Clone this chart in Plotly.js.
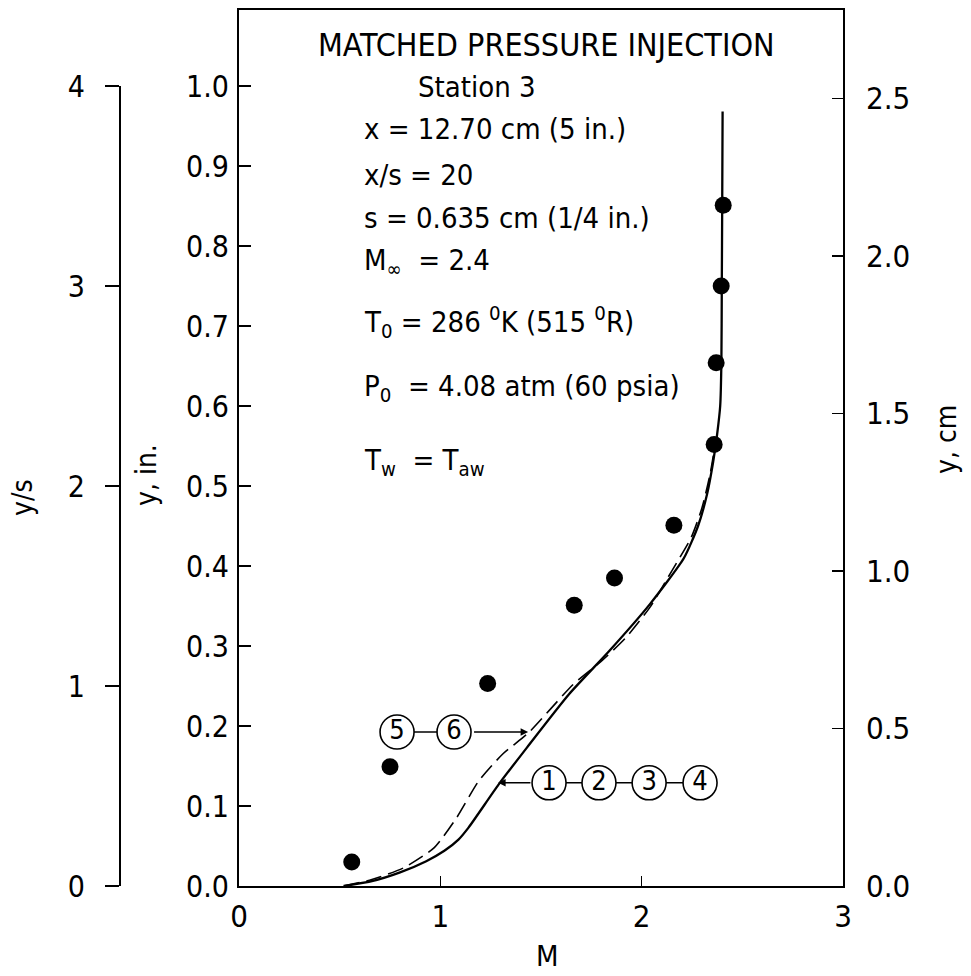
<!DOCTYPE html>
<html>
<head>
<meta charset="utf-8">
<script src="https://cdn.plot.ly/plotly-3.0.1.min.js"></script>
<style>html,body{margin:0;padding:0;background:#fff;}#chart{width:971px;height:976px;}</style>
</head>
<body>
<div id="chart"></div>
<script>
// ---- data ----
const pointsM = [0.56, 0.75, 1.235, 1.665, 1.865, 2.16, 2.36, 2.37, 2.395, 2.405];
const pointsY = [0.030, 0.149, 0.253, 0.351, 0.385, 0.451, 0.552, 0.654, 0.750, 0.851];

const solidM = [0.52, 0.66, 0.80, 0.93, 1.02, 1.09, 1.14, 1.29, 1.43, 1.64, 1.84, 2.04, 2.21, 2.28, 2.325, 2.355, 2.375, 2.39, 2.396, 2.398, 2.40, 2.402];
const solidY = [0.000, 0.006, 0.017, 0.031, 0.044, 0.058, 0.073, 0.127, 0.173, 0.240, 0.294, 0.352, 0.410, 0.450, 0.490, 0.530, 0.565, 0.600, 0.655, 0.750, 0.850, 0.968];

const dashM = [0.52, 0.66, 0.82, 0.97, 1.08, 1.19, 1.31, 1.44, 1.66, 1.80, 1.92, 2.04, 2.15, 2.245, 2.30, 2.34, 2.37];
const dashY = [0.000, 0.008, 0.023, 0.048, 0.085, 0.131, 0.165, 0.192, 0.252, 0.281, 0.310, 0.348, 0.394, 0.435, 0.473, 0.515, 0.560];

const xTickVals = [0, 1, 2, 3];
const xTickText = ['0', '1', '2', '3'];
const yInTickVals = [0, 0.1, 0.2, 0.3, 0.4, 0.5, 0.6, 0.7, 0.8, 0.9, 1.0];
const yInTickText = ['0.0', '0.1', '0.2', '0.3', '0.4', '0.5', '0.6', '0.7', '0.8', '0.9', '1.0'];
const yCmTickVals = [0, 0.5, 1.0, 1.5, 2.0, 2.5];
const yCmTickText = ['0.0', '0.5', '1.0', '1.5', '2.0', '2.5'];
const ySTickVals = [0, 1, 2, 3, 4];
const ySTickText = ['0', '1', '2', '3', '4'];

const label56 = ['5', '6'];
const label1234 = ['1', '2', '3', '4'];

// ---- layout helpers ----
const W = 971, H = 976;
const px = v => v / W;
const py = v => 1 - v / H;
const COND = '"DejaVu Sans Condensed", "Liberation Sans Narrow", "Arial Narrow", sans-serif';

const yTop = 1.095;          // y (in.) at top of frame
const label56M = [0.785, 1.068], label56Y = [0.1925, 0.1925];
const label1234M = [1.54, 1.788, 2.037, 2.29], label1234Y = [0.129, 0.129, 0.129, 0.129];

const traces = [
  {x: solidM, y: solidY, mode: 'lines', line: {color: '#000', width: 2.3, shape: 'spline', smoothing: 0.6}, hoverinfo: 'skip'},
  {x: dashM, y: dashY, mode: 'lines', line: {color: '#000', width: 1.6, dash: '16px,7px', shape: 'spline', smoothing: 0.6}, hoverinfo: 'skip'},
  {x: pointsM, y: pointsY, mode: 'markers', marker: {color: '#000', size: 17, symbol: 'circle'}},
  {x: label56M, y: label56Y, text: label56, mode: 'lines+markers+text', textposition: 'middle center',
   textfont: {family: COND, size: 27, color: '#000'},
   line: {color: '#000', width: 1.6},
   marker: {size: 34, color: '#fff', line: {color: '#000', width: 1.6}}},
  {x: label1234M, y: label1234Y, text: label1234, mode: 'lines+markers+text', textposition: 'middle center',
   textfont: {family: COND, size: 27, color: '#000'},
   line: {color: '#000', width: 1.6},
   marker: {size: 34, color: '#fff', line: {color: '#000', width: 1.6}}},
  {x: [null], y: [null], yaxis: 'y2', mode: 'markers', showlegend: false},
  {x: [null], y: [null], yaxis: 'y3', mode: 'markers', showlegend: false}
];

const textAnn = (t, x, y, size, anchor, angle) => ({
  text: t, xref: 'paper', yref: 'paper', x: px(x), y: py(y), xanchor: anchor || 'left', yanchor: 'middle',
  textangle: angle || 0,
  showarrow: false, font: {family: COND, size: size || 29, color: '#000'}
});

const layout = {
  width: W, height: H,
  margin: {l: 0, r: 0, t: 0, b: 0, autoexpand: false},
  paper_bgcolor: '#fff', plot_bgcolor: 'rgba(0,0,0,0)',
  showlegend: false,
  xaxis: {
    domain: [px(239), px(843)], range: [0, 3], tickvals: xTickVals, ticktext: xTickText,
    ticks: 'inside', ticklen: 10, tickwidth: 1.5, tickcolor: '#000',
    showline: true, linecolor: '#000', linewidth: 2, mirror: true, showgrid: false, zeroline: false,
    tickfont: {family: COND, size: 31, color: '#000'}, ticklabelstandoff: 2
  },
  yaxis: {
    domain: [1 - 886 / H, 1 - 10 / H], range: [0, yTop], tickvals: yInTickVals, ticktext: yInTickText,
    ticks: 'inside', ticklen: 12, tickwidth: 1.5, tickcolor: '#000',
    showline: true, linecolor: '#000', linewidth: 2, mirror: true, showgrid: false, zeroline: false,
    tickfont: {family: COND, size: 30, color: '#000'}, ticklabelstandoff: 2
  },
  yaxis2: {
    overlaying: 'y', side: 'right', anchor: 'x', range: [0, yTop * 2.54],
    tickvals: yCmTickVals, ticktext: yCmTickText,
    ticks: 'inside', ticklen: 11, tickwidth: 1.5, tickcolor: '#000',
    showline: false, showgrid: false, zeroline: false,
    tickfont: {family: COND, size: 31, color: '#000'}, ticklabelstandoff: 22
  },
  yaxis3: {
    domain: [1 - 886 / H, 1 - 86 / H], anchor: 'free', position: px(119), side: 'left',
    range: [0, 4], tickvals: ySTickVals, ticktext: ySTickText,
    ticks: 'outside', ticklen: 14, tickwidth: 1.5, tickcolor: '#000',
    showline: true, linecolor: '#000', linewidth: 1.5, showgrid: false, zeroline: false,
    tickfont: {family: COND, size: 30, color: '#000'}, ticklabelstandoff: 14
  },
  annotations: [
    textAnn('MATCHED PRESSURE INJECTION', 546, 45, 32, 'center'),
    textAnn('Station 3', 416, 87),
    textAnn('x = 12.70 cm (5 in.)', 362, 129),
    textAnn('x/s = 20', 362, 175),
    textAnn('s = 0.635 cm (1/4 in.)', 362, 218),
    textAnn('M<sub>∞</sub>  = 2.4', 362, 262),
    textAnn('T<sub>0</sub> = 286 <sup>0</sup>K (515 <sup>0</sup>R)', 362, 322),
    textAnn('P<sub>0</sub>  = 4.08 atm (60 psia)', 362, 388),
    textAnn('T<sub>w</sub>  = T<sub>aw</sub>', 362, 462),
    textAnn('M', 547, 956, 29, 'center'),
    textAnn('y/s', 22, 498, 28, 'center', -90),
    textAnn('y, in.', 146, 475, 28, 'center', -90),
    textAnn('y, cm', 947, 440, 28, 'center', -90),
    {xref: 'x', yref: 'y', x: 1.436, y: 0.1925, ax: 1.16, ay: 0.1925, axref: 'x', ayref: 'y',
     text: '', showarrow: true, arrowhead: 2, arrowsize: 1, arrowwidth: 1.5, arrowcolor: '#000'},
    {xref: 'x', yref: 'y', x: 1.287, y: 0.129, ax: 1.455, ay: 0.129, axref: 'x', ayref: 'y',
     text: '', showarrow: true, arrowhead: 2, arrowsize: 1, arrowwidth: 1.5, arrowcolor: '#000'}
  ]
};

Plotly.newPlot('chart', traces, layout, {staticPlot: true, displayModeBar: false});
</script>
</body>
</html>
